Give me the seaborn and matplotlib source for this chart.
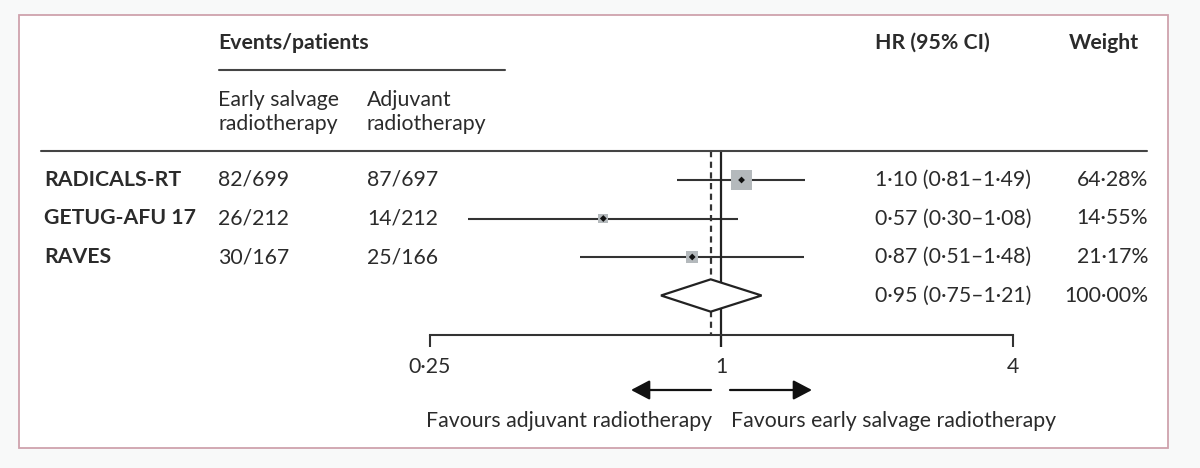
import numpy as np
import pandas as pd
import matplotlib
matplotlib.use("Agg")
import matplotlib.pyplot as plt
import seaborn as sns
from matplotlib.patches import Rectangle, Polygon
from matplotlib.lines import Line2D
from matplotlib.transforms import blended_transform_factory
from matplotlib.ticker import NullLocator

# ---------------- data ----------------
studies = ["RADICALS-RT", "GETUG-AFU 17", "RAVES"]
events_salvage = ["82/699", "26/212", "30/167"]
events_adjuvant = ["87/697", "14/212", "25/166"]
hr = [1.10, 0.57, 0.87]
ci_low = [0.81, 0.30, 0.51]
ci_high = [1.49, 1.08, 1.48]
weights = [64.28, 14.55, 21.17]
pooled_hr = 0.95
pooled_low = 0.75
pooled_high = 1.21
pooled_weight = 100.00
x_ticks = [0.25, 1, 4]
x_tick_labels = ["0·25", "1", "4"]

# ---------------- style ----------------
sns.set_theme(style="white")
plt.rcParams["font.family"] = ["Lato", "DejaVu Sans"]
TXT = "#2b2b2b"
LINE = "#333333"
FS = 15.3

W, H = 1200, 468
fig = plt.figure(figsize=(W / 100, H / 100), dpi=100)
fig.patch.set_facecolor("#f8f9f9")

def fx(x):
    return x / W

def fy(y):
    return 1 - y / H

# border box
fig.add_artist(Rectangle((fx(19), fy(448)), (1168 - 19) / W, (448 - 15) / H,
                         transform=fig.transFigure, facecolor="white",
                         edgecolor="#cfa2ad", lw=1.3, zorder=-1))

ax = fig.add_axes([0, 0, 1, 1])
ax.patch.set_alpha(0)

# log2 x scale: 0.25 -> px 430, 4 -> px 1013
PX_PER = (1013 - 430) / 4.0
ax.set_xscale("log", base=2)
xlim = (2 ** (-2 - 430 / PX_PER), 2 ** (-2 + (W - 430) / PX_PER))

ROW0, STEP = 180.0, 38.5

def r(py):
    return (py - ROW0) / STEP

rows = np.arange(len(studies))
pooled_row = len(studies)

df = pd.DataFrame({"study": studies, "hr": hr, "lo": ci_low, "hi": ci_high,
                   "weight": weights, "row": rows})

# CI lines
ax.hlines(df["row"], df["lo"], df["hi"], color=LINE, lw=1.5, zorder=2)
# weighted squares (area proportional to weight)
k = 3.3
sns.scatterplot(data=df, x="hr", y="row", size="weight",
                sizes=(k * min(weights), k * max(weights)),
                size_norm=(min(weights), max(weights)),
                marker="s", color="#b4b9bc", edgecolor="none", linewidth=0,
                legend=False, ax=ax, zorder=3)
# centre points
sns.scatterplot(data=df, x="hr", y="row", marker="D", s=12, color="#111111",
                edgecolor="none", legend=False, ax=ax, zorder=4)

# pooled diamond
dh = 0.42
ax.add_patch(Polygon([[pooled_low, pooled_row], [pooled_hr, pooled_row - dh],
                      [pooled_high, pooled_row], [pooled_hr, pooled_row + dh]],
                     closed=True, facecolor="white", edgecolor="#222222",
                     lw=1.6, zorder=3))

# reference lines
ax.vlines(1, r(151), r(347), color="#222222", lw=1.6, zorder=2)
ax.vlines(pooled_hr, r(151), r(334), color="#333333", lw=1.6,
          linestyles=(0, (2.8, 2.0)), zorder=1)

# bottom axis
for s in ["top", "left", "right"]:
    ax.spines[s].set_visible(False)
ax.spines["bottom"].set_position(("data", r(335)))
ax.spines["bottom"].set_bounds(x_ticks[0], x_ticks[-1])
ax.spines["bottom"].set_color(LINE)
ax.spines["bottom"].set_linewidth(1.5)
ax.set_xticks(x_ticks, x_tick_labels)
ax.xaxis.set_minor_locator(NullLocator())
ax.tick_params(axis="x", direction="out", length=8.6, width=1.5, color=LINE,
               pad=7, labelsize=FS, labelcolor=TXT, bottom=True)
ax.tick_params(axis="y", left=False, labelleft=False)
ax.set_xlabel("")
ax.set_ylabel("")
ax.grid(False)
ax.set_xlim(*xlim)
ax.set_ylim(r(H), r(0))

bt = blended_transform_factory(ax.transAxes, ax.transData)

# header lines
fig.add_artist(Line2D([fx(41), fx(1147)], [fy(151), fy(151)],
                      transform=fig.transFigure, color="#444444", lw=1.5))
fig.add_artist(Line2D([fx(219), fx(505)], [fy(70), fy(70)],
                      transform=fig.transFigure, color="#444444", lw=1.5))

# header texts
fig.text(fx(218), fy(43), "Events/patients", fontsize=FS, fontweight="bold",
         color=TXT, ha="left", va="center")
fig.text(fx(875), fy(43), "HR (95% CI)", fontsize=FS, fontweight="bold",
         color=TXT, ha="left", va="center")
fig.text(fx(1139), fy(43), "Weight", fontsize=FS, fontweight="bold",
         color=TXT, ha="right", va="center")
fig.text(fx(218), fy(112), "Early salvage\nradiotherapy", fontsize=FS,
         color=TXT, ha="left", va="center", linespacing=1.3)
fig.text(fx(367), fy(112), "Adjuvant\nradiotherapy", fontsize=FS,
         color=TXT, ha="left", va="center", linespacing=1.3)

def fmt(v):
    return f"{v:.2f}".replace(".", "·")

for i, row in df.iterrows():
    ax.text(fx(44), row["row"], row["study"], transform=bt, fontsize=FS,
            fontweight="bold", color=TXT, ha="left", va="center")
    ax.text(fx(218), row["row"], events_salvage[i], transform=bt, fontsize=FS,
            color=TXT, ha="left", va="center")
    ax.text(fx(367), row["row"], events_adjuvant[i], transform=bt, fontsize=FS,
            color=TXT, ha="left", va="center")
    ax.text(fx(875), row["row"], f"{fmt(row['hr'])} ({fmt(row['lo'])}–{fmt(row['hi'])})",
            transform=bt, fontsize=FS, color=TXT, ha="left", va="center")
    ax.text(fx(1148), row["row"], f"{fmt(row['weight'])}%", transform=bt,
            fontsize=FS, color=TXT, ha="right", va="center")

ax.text(fx(875), pooled_row, f"{fmt(pooled_hr)} ({fmt(pooled_low)}–{fmt(pooled_high)})",
        transform=bt, fontsize=FS, color=TXT, ha="left", va="center")
ax.text(fx(1148), pooled_row, f"{fmt(pooled_weight)}%", transform=bt,
        fontsize=FS, color=TXT, ha="right", va="center")

# direction arrows
arrow_kw = dict(arrowstyle="-|>,head_length=0.95,head_width=0.5", color="#111111",
                lw=1.6, shrinkA=0, shrinkB=0)
ax.annotate("", xy=(fx(631), fy(390)), xytext=(fx(711), fy(390)),
            xycoords="figure fraction", textcoords="figure fraction",
            arrowprops=arrow_kw)
ax.annotate("", xy=(fx(812), fy(390)), xytext=(fx(730), fy(390)),
            xycoords="figure fraction", textcoords="figure fraction",
            arrowprops=arrow_kw)
fig.text(fx(712), fy(421), "Favours adjuvant radiotherapy", fontsize=FS,
         color=TXT, ha="right", va="center")
fig.text(fx(731), fy(421), "Favours early salvage radiotherapy", fontsize=FS,
         color=TXT, ha="left", va="center")

fig.savefig("out.png", dpi=100, facecolor=fig.get_facecolor())
